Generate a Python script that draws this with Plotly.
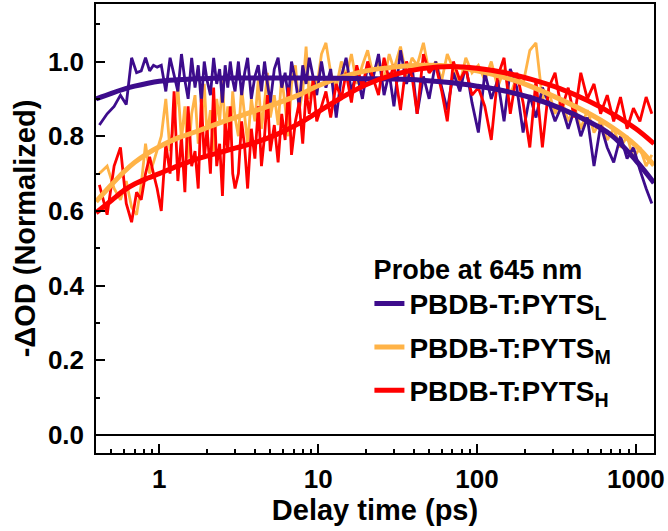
import plotly.graph_objects as go

# delay times (ps) for the measured traces
time_ps = [0.42, 0.47, 0.52, 0.57, 0.62, 0.67, 0.72, 0.77, 0.82, 0.87, 0.92, 0.97,
           1.03, 1.1, 1.17, 1.24, 1.31, 1.38, 1.45, 1.52, 1.6, 1.68, 1.76, 1.84,
           1.92, 2.0, 2.1, 2.2, 2.3, 2.4, 2.5, 2.6, 2.7, 2.8, 2.9, 3.0,
           3.15, 3.3, 3.45, 3.6, 3.8, 4.0, 4.2, 4.4, 4.6, 4.8, 5.0, 5.3,
           5.6, 5.9, 6.2, 6.5, 6.8, 7.2, 7.6, 8.0, 8.4, 8.8, 9.3, 9.8,
           10.5, 11.2, 12, 13, 14, 15, 16.2, 17.5, 19, 20.5, 22, 24, 26, 28,
           30, 33, 36, 39, 42, 46, 50, 55, 60, 65, 71, 78, 85, 93,
           102, 112, 123, 135, 148, 162, 178, 195, 215, 235, 258, 283, 310, 340,
           375, 410, 450, 495, 545, 600, 660, 725, 800, 880, 965, 1060, 1160, 1260]

pyts_l = [0.83, 0.86, 0.88, 0.91, 0.885, 1.01, 0.97, 0.975, 1.01, 0.975, 0.99, 0.985,
          0.99, 0.92, 1.01, 0.96, 0.92, 1.02, 0.95, 0.90, 1.01, 0.93, 0.99, 0.89,
          1.00, 0.95, 0.91, 1.01, 0.94, 0.98, 0.89, 0.99, 0.93, 1.00, 0.95, 0.92,
          1.00, 0.91, 0.97, 1.01, 0.90, 0.96, 0.99, 0.92, 1.00, 0.94, 0.89, 0.98,
          1.01, 0.93, 0.97, 0.90, 1.00, 0.95, 0.88, 0.99, 0.94, 1.01, 0.96, 0.91,
          1.00, 0.93, 0.98, 0.85, 0.96, 1.01, 0.92, 0.97, 0.90, 0.99, 0.95, 1.02, 0.91, 0.97,
          0.88, 1.03, 0.94, 0.99, 0.86, 0.96, 0.90, 1.00, 0.93, 0.87, 0.97, 0.92, 0.99, 0.89,
          0.81, 0.97, 0.90, 0.95, 0.84, 0.98, 0.93, 0.81, 0.91, 0.85, 0.93, 0.89, 0.84, 0.88,
          0.82, 0.87, 0.80, 0.85, 0.72, 0.83, 0.77, 0.73, 0.80, 0.74, 0.77, 0.71, 0.66, 0.62]

pyts_m = [0.70, 0.72, 0.66, 0.63, 0.68, 0.61, 0.59, 0.67, 0.78, 0.70, 0.73, 0.76,
          0.80, 0.90, 0.76, 0.84, 0.93, 0.79, 0.88, 0.74, 0.86, 0.91, 0.78, 0.83,
          0.94, 0.80, 0.87, 0.76, 0.90, 0.84, 0.95, 0.81, 0.88, 0.79, 0.92, 0.85,
          0.80, 0.93, 0.86, 0.78, 0.90, 0.84, 0.95, 0.82, 0.89, 0.97, 0.85, 0.91,
          0.83, 0.96, 0.88, 0.80, 0.94, 0.99, 0.87, 0.92, 1.04, 0.90, 0.96, 0.93,
          1.02, 1.05, 0.97, 0.93, 1.00, 0.96, 1.02, 0.94, 0.99, 1.03, 0.97, 1.00, 0.95, 1.02,
          0.98, 1.04, 0.96, 1.01, 0.99, 1.05, 0.97, 1.00, 0.95, 1.02, 0.98, 0.94, 1.01, 0.97,
          0.99, 0.95, 1.00, 0.93, 0.98, 0.91, 0.96, 0.94, 1.03, 1.05, 0.90, 0.92, 0.86, 0.90,
          0.84, 0.88, 0.82, 0.87, 0.81, 0.84, 0.79, 0.82, 0.77, 0.80, 0.74, 0.77, 0.72, 0.75]

pyts_h = [0.67, 0.59, 0.72, 0.77, 0.62, 0.57, 0.65, 0.63, 0.70, 0.745, 0.70, 0.66,
          0.60, 0.78, 0.70, 0.92, 0.68, 0.80, 0.65, 0.88, 0.72, 0.76, 0.66, 0.90,
          0.74, 0.82, 0.70, 0.93, 0.72, 0.78, 0.64, 0.84, 0.76, 0.88, 0.70, 0.66,
          0.70, 0.84, 0.77, 0.66, 0.82, 0.74, 0.88, 0.72, 0.80, 0.91, 0.76, 0.83,
          0.73, 0.86, 0.79, 0.93, 0.75, 0.84, 0.89, 0.78, 0.92, 0.86, 0.95, 0.84,
          0.88, 0.92, 0.85, 0.94, 0.90, 0.97, 0.89, 0.99, 0.93, 1.00, 0.96, 0.91, 1.01, 0.95,
          0.99, 0.87, 1.00, 0.96, 0.86, 1.02, 0.97, 0.99, 0.92, 0.84, 1.00, 0.95, 0.98, 0.91,
          0.93, 0.88, 0.79, 0.96, 1.01, 0.86, 0.97, 0.89, 0.77, 0.95, 0.77, 0.93, 0.97, 0.87,
          0.93, 0.85, 0.97, 0.90, 0.94, 0.86, 0.91, 0.84, 0.905, 0.82, 0.875, 0.84, 0.905, 0.86]

# fitted curves
fit_time = [0.4, 0.5, 0.6, 0.7, 0.85, 1, 1.3, 1.7, 2.2, 3, 4, 5.5, 7.5, 10, 14,
            20, 30, 45, 70, 100, 150, 220, 330, 500, 700, 1000, 1300]
fit_l = [0.90, 0.915, 0.926, 0.934, 0.942, 0.947, 0.951, 0.954, 0.955, 0.956, 0.956, 0.956, 0.956, 0.955,
         0.955, 0.954, 0.953, 0.950, 0.943, 0.934, 0.921, 0.903, 0.876, 0.840, 0.803, 0.735, 0.675]
fit_m = [0.625, 0.67, 0.705, 0.73, 0.755, 0.772, 0.795, 0.812, 0.83, 0.85, 0.868, 0.888, 0.91, 0.935,
         0.958, 0.975, 0.985, 0.99, 0.987, 0.975, 0.957, 0.933, 0.90, 0.862, 0.825, 0.775, 0.722]
fit_h = [0.595, 0.628, 0.655, 0.672, 0.688, 0.70, 0.72, 0.738, 0.752, 0.768, 0.783, 0.805, 0.833, 0.865,
         0.903, 0.938, 0.965, 0.981, 0.987, 0.982, 0.97, 0.952, 0.928, 0.895, 0.862, 0.82, 0.78]

names = ['PBDB-T:PYTS<sub>L</sub>', 'PBDB-T:PYTS<sub>M</sub>', 'PBDB-T:PYTS<sub>H</sub>']
colors = ['#3d0c8c', '#ffb347', '#ff0000']

x_major = [1, 10, 100, 1000]
x_minor = [0.5, 0.6, 0.7, 0.8, 0.9, 2, 3, 4, 5, 6, 7, 8, 9, 20, 30, 40, 50, 60, 70, 80, 90,
           200, 300, 400, 500, 600, 700, 800, 900]
y_major = [0.0, 0.2, 0.4, 0.6, 0.8, 1.0]
y_minor = [0.1, 0.3, 0.5, 0.7, 0.9, 1.1]

fig = go.Figure()

raw = [pyts_l, pyts_m, pyts_h]
fits = [fit_l, fit_m, fit_h]
for i in [1, 0, 2]:
  fig.add_scatter(x=time_ps, y=raw[i], mode='lines', showlegend=False,
                  line=dict(color=colors[i], width=2.8))
for i in [1, 0, 2]:
  fig.add_scatter(x=fit_time, y=fits[i], mode='lines', name=names[i], legendrank=i + 1,
                  legendgroup=str(i), line=dict(color=colors[i], width=5, shape='spline'))

axis_style = dict(showline=True, linecolor='black', linewidth=1.5, mirror=True, ticks='inside',
                  tickwidth=1.5, tickcolor='black', showgrid=False,
                  tickfont=dict(size=26, color='black'))

fig.update_xaxes(type='log', range=[-0.398, 3.114], tickvals=x_major, ticklen=9,
                 ticklabelstandoff=2,
                 title=dict(text='Delay time (ps)', font=dict(size=29, color='black'), standoff=2),
                 minor=dict(tickvals=x_minor, ticks='inside', ticklen=4, tickwidth=1.5,
                            tickcolor='black', showgrid=False),
                 **axis_style)
fig.update_yaxes(range=[-0.048, 1.154], tickvals=y_major, tickformat='.1f', ticklen=9,
                 ticklabelstandoff=5,
                 zeroline=True, zerolinecolor='black', zerolinewidth=1.5,
                 title=dict(text='-ΔOD (Normalized)', font=dict(size=29, color='black'), standoff=4),
                 minor=dict(tickvals=y_minor, ticks='inside', ticklen=4, tickwidth=1.5,
                            tickcolor='black', showgrid=False),
                 **axis_style)

fig.update_layout(width=668, height=531, margin=dict(l=96, r=14, t=4, b=78, autoexpand=False),
                  plot_bgcolor='white', paper_bgcolor='white',
                  font=dict(family='Arial, Liberation Sans, sans-serif', weight='bold', color='black'),
                  legend=dict(x=0.49, y=0.466, xanchor='left', yanchor='top', bgcolor='rgba(0,0,0,0)',
                              font=dict(size=28, color='black'), traceorder='grouped',
                              tracegroupgap=4,
                              title=dict(text='Probe at 645 nm' + '\u00a0' * 4, side='top center',
                                         font=dict(size=27, color='black'))))

fig.write_html("out.html", config={'displayModeBar': False},
               post_script="document.body.style.margin='0';")
